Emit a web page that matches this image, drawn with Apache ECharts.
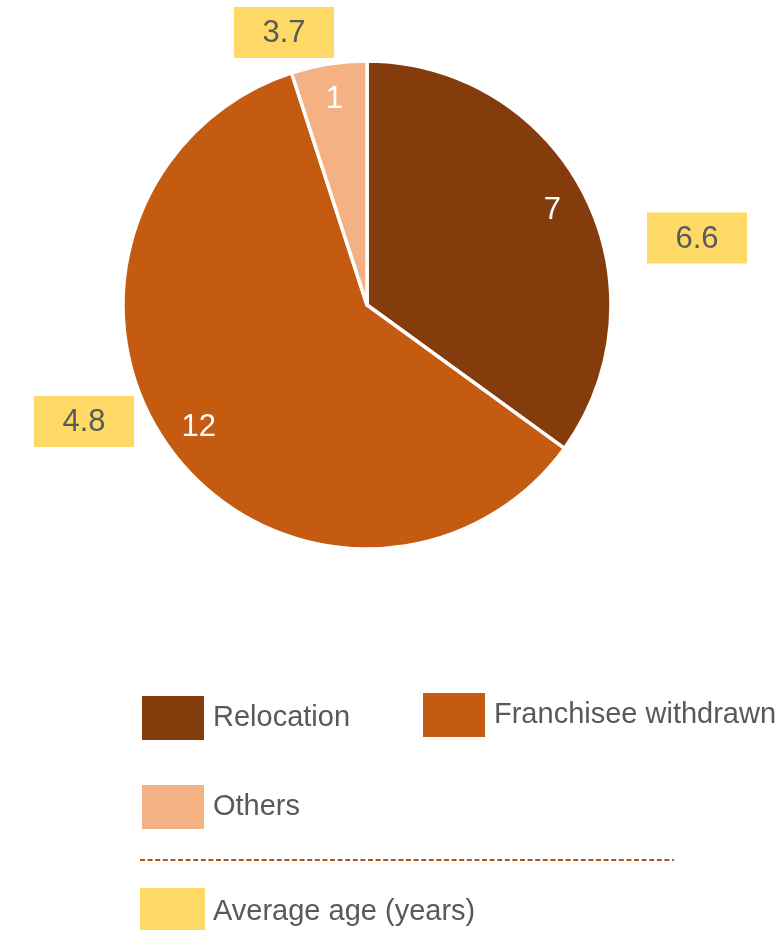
<!DOCTYPE html>
<html>
<head>
<meta charset="utf-8">
<script src="https://cdn.jsdelivr.net/npm/echarts@6/dist/echarts.min.js"></script>
<style>
  html, body { margin: 0; padding: 0; background: #ffffff; }
  #chart { width: 784px; height: 930px; }
</style>
</head>
<body>
<div id="chart"></div>
<script>
// Store closures by reason: number of stores and average store age (years)
const categories = ['Relocation', 'Franchisee withdrawn', 'Others'];
const counts = [7, 12, 1];
const avgAge = [6.6, 4.8, 3.7];
const ageLegendLabel = 'Average age (years)';

// Styling and placement
const sliceColors = ['#843C0C', '#C55A11', '#F4B183'];
const ageColor = '#FFD966';
const textColor = '#595959';
const fontFamily = '"Liberation Sans", Arial, sans-serif';
const pieCenter = [367, 305];
const pieRadius = 244;
const ageBoxCenters = [[697, 238], [84, 421.5], [284, 32.5]];
const ageBoxSize = [100, 51];
const legendSpots = [[140, 694], [421, 691], [140, 783]];

const chart = echarts.init(document.getElementById('chart'), null, { renderer: 'canvas' });

const pieData = categories.map((name, i) => ({
  name: name,
  value: counts[i],
  itemStyle: { color: sliceColors[i] }
}));

// One legend block per category, placed on a loose grid
const legends = categories.map((name, i) => ({
  data: [name],
  left: legendSpots[i][0],
  top: legendSpots[i][1],
  padding: 0,
  icon: 'rect',
  itemWidth: 64,
  itemHeight: 46,
  selectedMode: false,
  textStyle: {
    color: textColor,
    fontSize: 29,
    fontFamily: fontFamily,
    padding: [0, 0, 0, 3]
  }
}));

// Yellow boxes with the average age of each category
const ageBoxes = avgAge.map((v, i) => ({
  type: 'group',
  x: ageBoxCenters[i][0],
  y: ageBoxCenters[i][1],
  silent: true,
  children: [
    {
      type: 'rect',
      shape: { x: -ageBoxSize[0] / 2, y: -ageBoxSize[1] / 2, width: ageBoxSize[0], height: ageBoxSize[1] },
      style: { fill: ageColor }
    },
    {
      type: 'text',
      style: {
        text: v.toFixed(1),
        x: 0,
        y: 1,
        align: 'center',
        verticalAlign: 'middle',
        fill: textColor,
        font: '31px ' + fontFamily
      }
    }
  ]
}));

const option = {
  backgroundColor: '#ffffff',
  animation: false,
  legend: legends,
  series: [
    {
      type: 'pie',
      name: 'Closures',
      center: pieCenter,
      radius: [0, pieRadius],
      startAngle: 90,
      clockwise: true,
      silent: true,
      data: pieData,
      itemStyle: { borderColor: '#ffffff', borderWidth: 3.5 },
      label: { show: false },
      labelLine: { show: false },
      emphasis: { disabled: true }
    },
    {
      // transparent outer ring that carries the count labels near the rim
      type: 'pie',
      name: 'Counts',
      center: pieCenter,
      radius: [pieRadius - 78, pieRadius],
      startAngle: 90,
      clockwise: true,
      silent: true,
      data: categories.map((name, i) => ({
        name: name,
        value: counts[i],
        itemStyle: { color: 'rgba(0,0,0,0)' }
      })),
      itemStyle: { borderWidth: 0 },
      label: {
        show: true,
        position: 'inside',
        color: '#ffffff',
        fontSize: 31,
        fontFamily: fontFamily,
        formatter: '{c}'
      },
      labelLine: { show: false },
      emphasis: { disabled: true }
    }
  ],
  graphic: [
    ...ageBoxes,
    {
      type: 'line',
      silent: true,
      shape: { x1: 140, y1: 860, x2: 674, y2: 860 },
      style: { stroke: '#B0581C', lineWidth: 2, lineDash: [5, 2.6] }
    },
    {
      type: 'rect',
      silent: true,
      shape: { x: 140, y: 888, width: 65, height: 42 },
      style: { fill: ageColor }
    },
    {
      type: 'text',
      silent: true,
      style: {
        text: ageLegendLabel,
        x: 213,
        y: 912,
        verticalAlign: 'middle',
        fill: textColor,
        font: '29px ' + fontFamily
      }
    }
  ]
};

chart.setOption(option);
</script>
</body>
</html>
